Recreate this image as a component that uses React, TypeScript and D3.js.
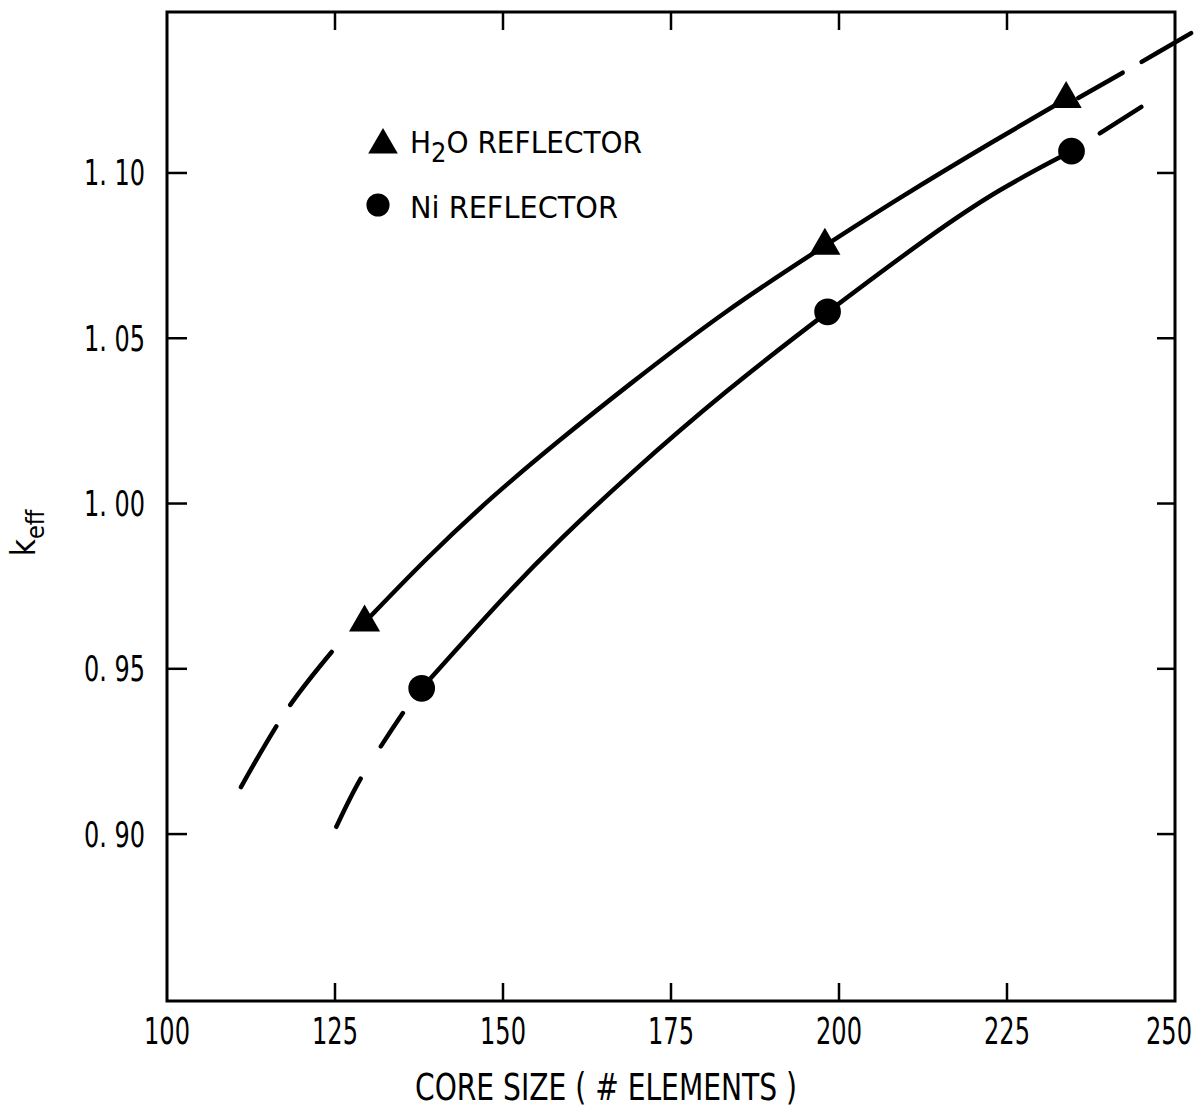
import React from 'react';
import * as d3 from 'd3';

// Axis ticks
const xTicks = [100, 125, 150, 175, 200, 225, 250];
const yTicks = [0.9, 0.95, 1.0, 1.05, 1.1];
const xDomain = [100, 250];
const yDomain = [0.8495, 1.1487];

// Calculated k_eff values (core size, k_eff)
const h2oPoints: [number, number][] = [[129.4, 0.964], [197.9, 1.078], [233.8, 1.1224]];
const niPoints: [number, number][] = [[137.9, 0.9441], [198.3, 1.058], [234.6, 1.1066]];

// Faired curves through the calculated values
const h2oCurve: [number, number][] = [
  [129.4, 0.964], [138.6, 0.9835], [148.4, 1.0022], [158.4, 1.0192], [168.3, 1.0353],
  [183.2, 1.0586], [197.9, 1.078], [208.4, 1.0918], [223.7, 1.1105], [233.8, 1.1224],
];
const niCurve: [number, number][] = [
  [137.9, 0.9441], [150.9, 0.9736], [158.4, 0.989], [168.3, 1.008],
  [183.2, 1.0343], [198.3, 1.058], [213.8, 1.0815], [223.7, 1.095], [234.6, 1.1066],
];

// Extrapolated (dashed) portions
const h2oLowExt: [number, number][] = [[124.5, 0.9551], [118.0, 0.9381], [111.0, 0.9142]];
const h2oHighExt: [number, number][] = [[235.6, 1.1227], [244.0, 1.1324], [252.4, 1.1423]];
const niLowExt: [number, number][] = [[135.1, 0.9366], [128.8, 0.9167], [125.2, 0.9022]];
const niHighExt: [number, number][] = [[238.8, 1.112], [245.0, 1.12]];

const FONT = "'Liberation Sans Narrow', 'DejaVu Sans Condensed', 'Arial Narrow', sans-serif";

export default function App() {
  const W = 1198;
  const H = 1105;
  const x = d3.scaleLinear().domain(xDomain).range([167, 1175]);
  const y = d3.scaleLinear().domain(yDomain).range([1001, 12]);

  const solid = d3
    .line<[number, number]>()
    .x((d) => x(d[0]))
    .y((d) => y(d[1]))
    .curve(d3.curveBasis);
  const ext = d3
    .line<[number, number]>()
    .x((d) => x(d[0]))
    .y((d) => y(d[1]))
    .curve(d3.curveCatmullRom.alpha(0.5));

  const tri = d3.symbol().type(d3.symbolTriangle).size(420)()!;
  const dot = d3.symbol().type(d3.symbolCircle).size(560)()!;
  const triLegend = d3.symbol().type(d3.symbolTriangle).size(380)()!;
  const dotLegend = d3.symbol().type(d3.symbolCircle).size(420)()!;

  const left = x(xDomain[0]);
  const right = x(xDomain[1]);
  const top = y(yDomain[1]);
  const bottom = y(yDomain[0]);
  const innerX = xTicks.slice(1, -1);
  const fmtY = (v: number) => d3.format('.2f')(v).replace('.', '. ');

  const curveStyle = { fill: 'none', stroke: '#000', strokeWidth: 4.5, strokeLinecap: 'round' as const };

  return (
    <svg
      width={W}
      height={H}
      viewBox={`0 0 ${W} ${H}`}
      style={{ position: 'absolute', left: 0, top: 0, background: '#fff' }}
      fontFamily={FONT}
    >
      <rect x={0} y={0} width={W} height={H} fill="#fff" />

      {/* frame */}
      <rect x={left} y={top} width={right - left} height={bottom - top} fill="none" stroke="#000" strokeWidth={3} />

      {/* x ticks, bottom and top, pointing inward */}
      {innerX.map((t) => (
        <g key={`xt${t}`} stroke="#000" strokeWidth={2.5}>
          <line x1={x(t)} x2={x(t)} y1={bottom} y2={bottom - 18} />
          <line x1={x(t)} x2={x(t)} y1={top} y2={top + 18} />
        </g>
      ))}
      {/* y ticks, left and right */}
      {yTicks.map((t) => (
        <g key={`yt${t}`} stroke="#000" strokeWidth={2.5}>
          <line x1={left} x2={left + 20} y1={y(t)} y2={y(t)} />
          <line x1={right} x2={right - 18} y1={y(t)} y2={y(t)} />
        </g>
      ))}

      {/* tick labels */}
      {xTicks.map((t) => (
        <text
          key={`xl${t}`}
          x={t === 250 ? x(t) - 6 : x(t)}
          y={1044}
          fontSize={37}
          textAnchor="middle"
          fill="#000"
          textLength={46}
          lengthAdjust="spacingAndGlyphs"
        >
          {t}
        </text>
      ))}
      {yTicks.map((t) => (
        <text
          key={`yl${t}`}
          x={145}
          y={y(t) + 12.5}
          fontSize={35}
          textAnchor="end"
          fill="#000"
          textLength={61}
          lengthAdjust="spacingAndGlyphs"
        >
          {fmtY(t)}
        </text>
      ))}

      {/* axis titles */}
      <text x={606} y={1100} fontSize={37} textAnchor="middle" fill="#000" textLength={382} lengthAdjust="spacingAndGlyphs">
        CORE SIZE ( # ELEMENTS )
      </text>
      <text transform="translate(35,533) rotate(-90)" textAnchor="middle" fill="#000">
        <tspan fontSize={33}>k</tspan>
        <tspan fontSize={25} dy={9}>eff</tspan>
      </text>

      {/* curves */}
      <path d={solid(h2oCurve)!} {...curveStyle} />
      <path d={solid(niCurve)!} {...curveStyle} />
      <path d={ext(h2oLowExt)!} {...curveStyle} strokeDasharray="67 26 70 999" />
      <path d={ext(niLowExt)!} {...curveStyle} strokeDasharray="40 38 58 999" />
      <path d={ext(h2oHighExt)!} {...curveStyle} strokeDasharray="51 22 60 999" />
      <path d={ext(niHighExt)!} {...curveStyle} />

      {/* markers */}
      {h2oPoints.map((p, i) => (
        <path key={`h${i}`} d={tri} transform={`translate(${x(p[0])},${y(p[1])})`} fill="#000" />
      ))}
      {niPoints.map((p, i) => (
        <path key={`n${i}`} d={dot} transform={`translate(${x(p[0])},${y(p[1])})`} fill="#000" />
      ))}

      {/* legend */}
      <path d={triLegend} transform="translate(383,145)" fill="#000" />
      <text x={410} y={153} fontSize={30} fill="#000" textLength={232} lengthAdjust="spacingAndGlyphs">
        <tspan>H</tspan>
        <tspan fontSize={26} dy={9}>2</tspan>
        <tspan dy={-9}>O REFLECTOR</tspan>
      </text>
      <path d={dotLegend} transform="translate(378,205)" fill="#000" />
      <text x={410} y={218} fontSize={30} fill="#000" textLength={208} lengthAdjust="spacingAndGlyphs">
        Ni REFLECTOR
      </text>
    </svg>
  );
}
